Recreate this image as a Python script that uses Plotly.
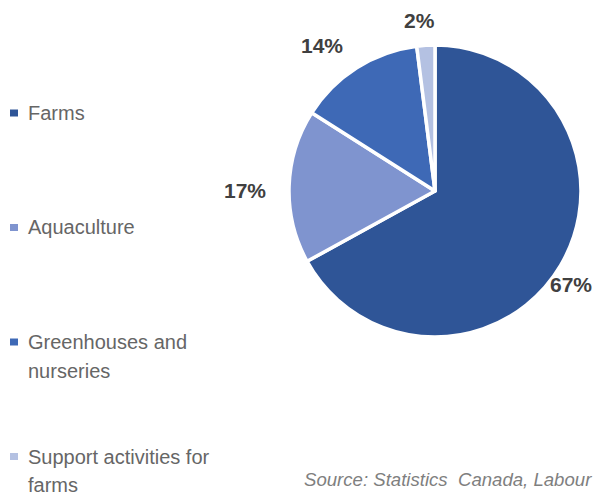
import math
import plotly.graph_objects as go
import textwrap

categories = ["Farms", "Aquaculture", "Greenhouses and nurseries", "Support activities for farms"]
shares = [67, 17, 14, 2]
colors = ["#2F5597", "#7F94CF", "#3E69B6", "#B4C1E2"]
source_text = "Source: Statistics  Canada, Labour"

W, H = 595, 495
cx, cy, r = 435, 191, 146
label_dist = [165, 190, 184, 171]      # distance of each percent label from pie centre (px)
label_turn = [4.1, -1.5, -5.5, -1.6]   # small angular nudge of each label (degrees)

def px(x):
    return x / W

def py(y):
    return 1 - y / H

fig = go.Figure()
fig.add_trace(go.Pie(
    labels=categories,
    values=shares,
    sort=False,
    direction="clockwise",
    rotation=0,
    marker=dict(colors=colors, line=dict(color="white", width=3.5)),
    textinfo="none",
    domain=dict(x=[px(cx - r), px(cx + r)], y=[py(cy + r), py(cy - r)]),
    showlegend=False,
    hoverinfo="label+percent",
))

annotations = []
shapes = []

# percent labels, placed near each slice's mid angle
total = sum(shares)
cum = 0
for v, d, t in zip(shares, label_dist, label_turn):
    mid = (cum + v / 2) / total * 2 * math.pi + math.radians(t)
    cum += v
    lx = cx + d * math.sin(mid)
    ly = cy - d * math.cos(mid)
    annotations.append(dict(text=f"{v}%", xref="paper", yref="paper",
                            x=px(lx), y=py(ly), xanchor="center", yanchor="middle",
                            showarrow=False,
                            font=dict(family="Liberation Sans", size=21, color="#404040", weight="bold")))

# legend
item_top = 113
item_gap = 114.5
line_gap = 28.5
for i, (name, col) in enumerate(zip(categories, colors)):
    lines = textwrap.wrap(name, 22)
    y0 = item_top + i * item_gap
    shapes.append(dict(type="rect", xref="paper", yref="paper",
                       x0=px(10), x1=px(18), y0=py(y0 + 3.5), y1=py(y0 - 3.5),
                       fillcolor=col, line=dict(width=0)))
    for j, ln in enumerate(lines):
        annotations.append(dict(text=ln, xref="paper", yref="paper",
                                x=px(26), y=py(y0 + j * line_gap),
                                xanchor="left", yanchor="middle", showarrow=False,
                                font=dict(family="Liberation Sans", size=20, color="#666666")))

annotations.append(dict(text=source_text, xref="paper", yref="paper",
                        x=px(302), y=py(479), xanchor="left", yanchor="middle",
                        showarrow=False,
                        font=dict(family="Liberation Sans", size=18.6, color="#7F7F7F", style="italic")))

fig.update_layout(
    width=W, height=H,
    margin=dict(l=0, r=0, t=0, b=0),
    paper_bgcolor="white",
    plot_bgcolor="white",
    annotations=annotations,
    shapes=shapes,
)

fig.write_html("out.html")
